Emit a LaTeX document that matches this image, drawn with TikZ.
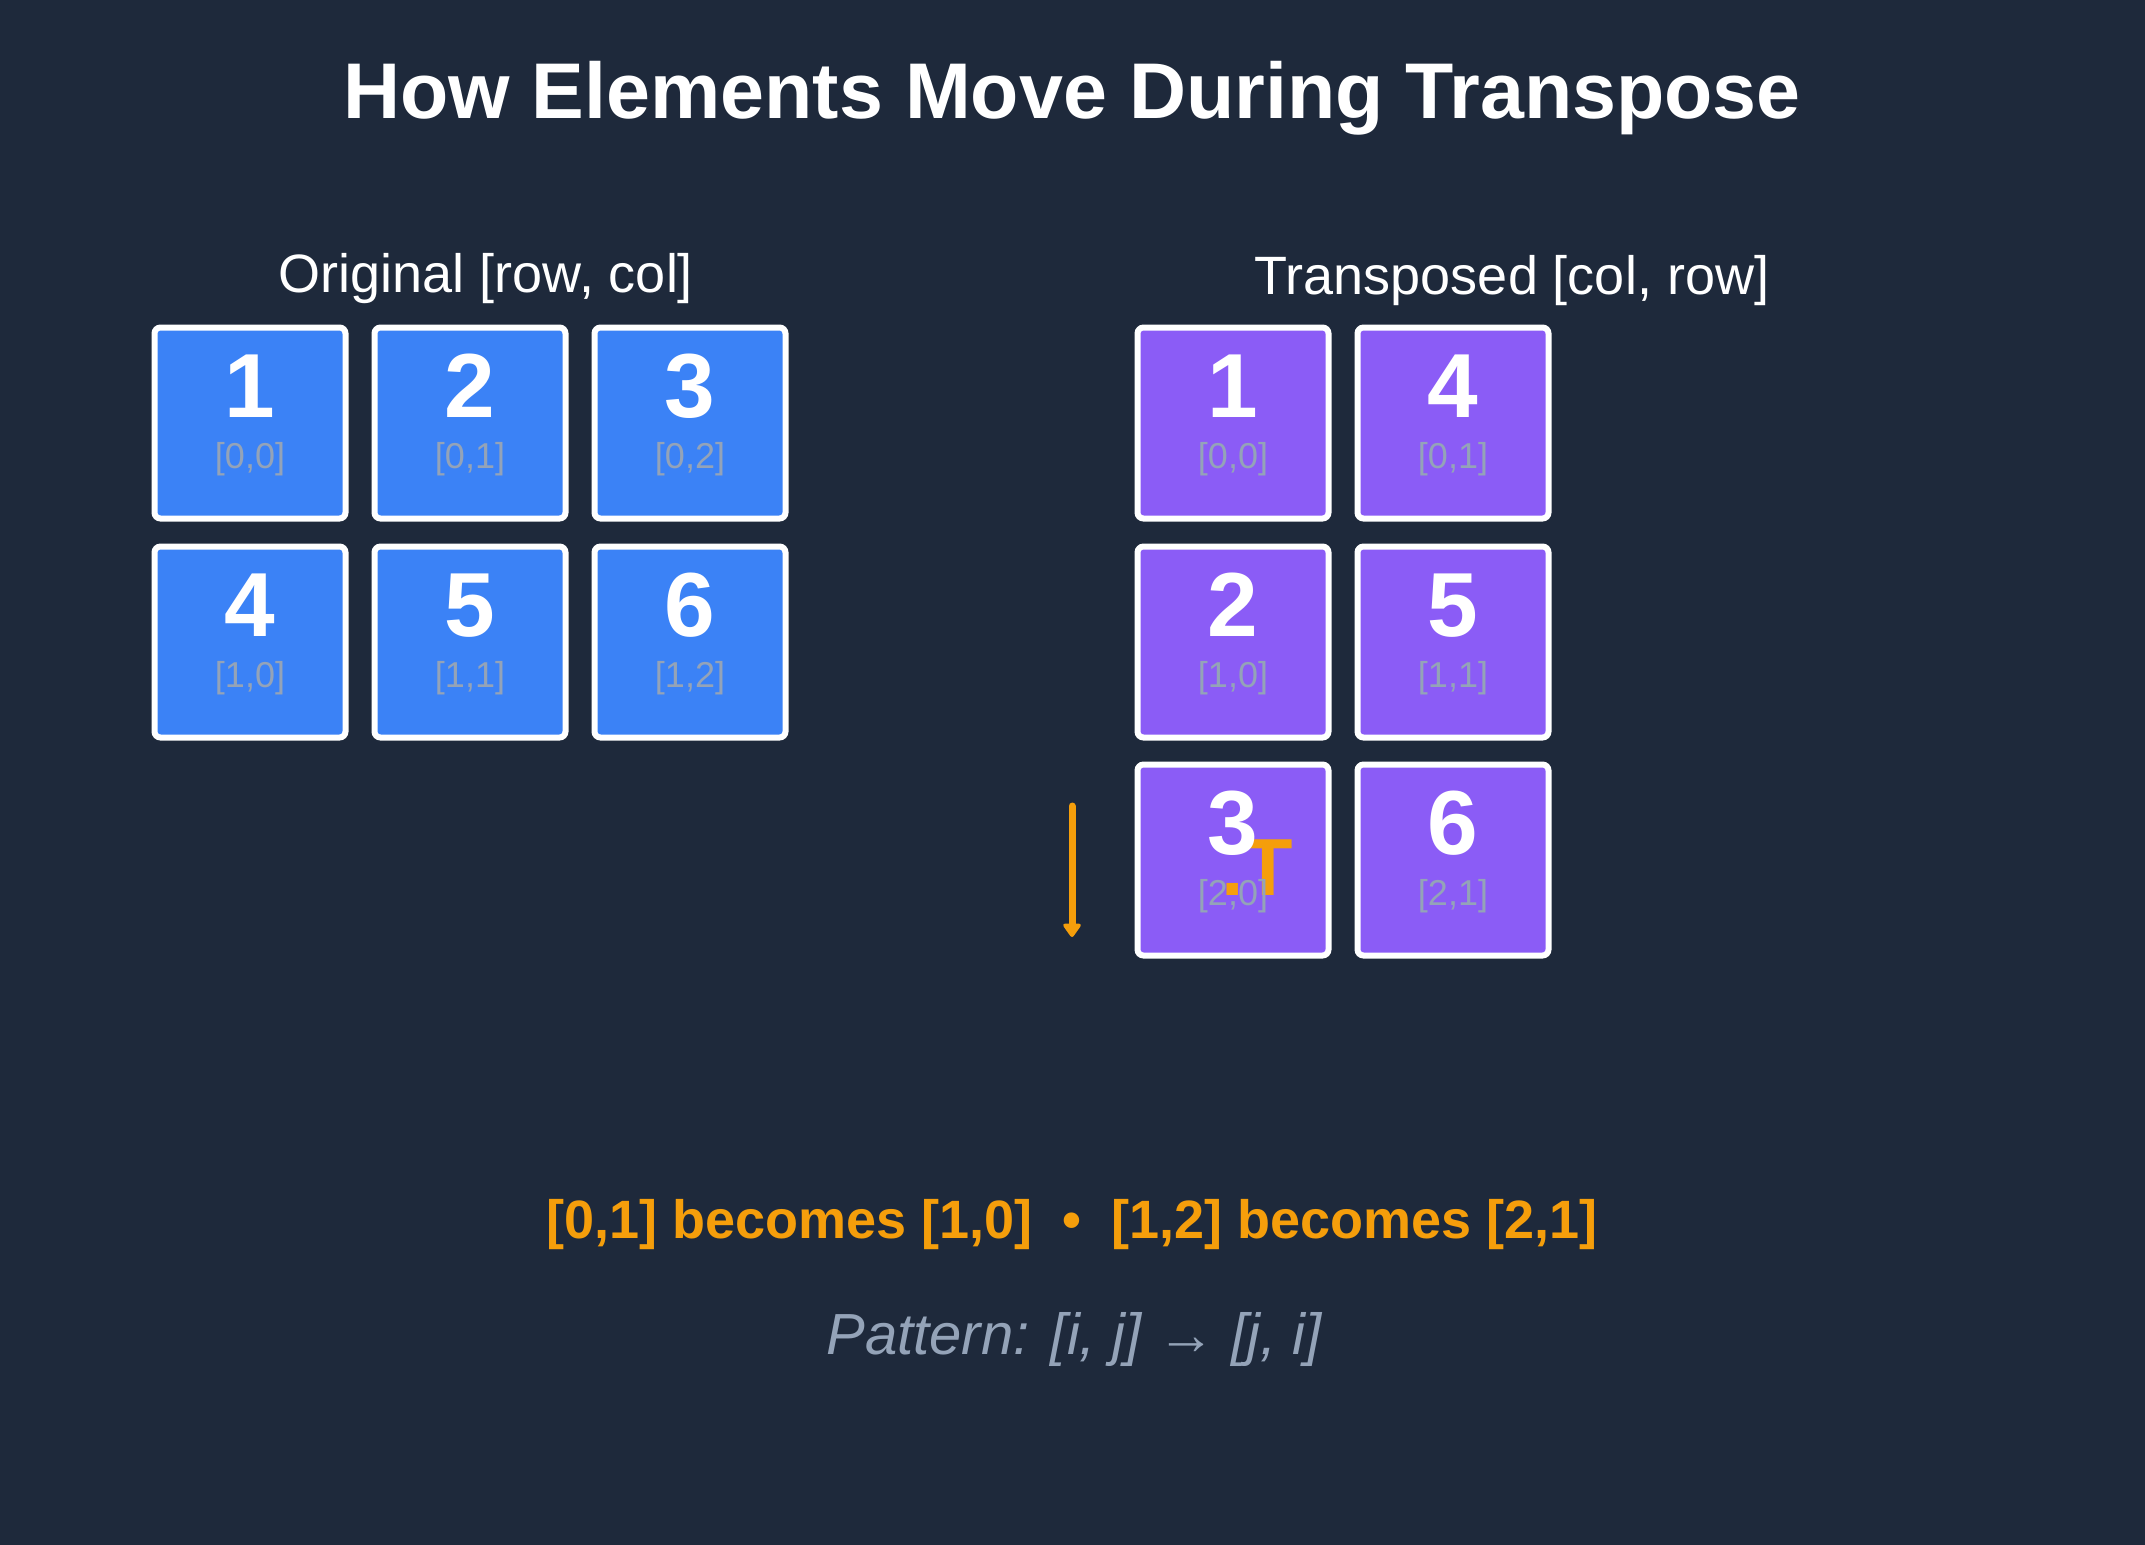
\documentclass[tikz,border=0pt]{standalone}
\usepackage{fontspec}
\setmainfont{Liberation Sans}
\usetikzlibrary{arrows.meta,calc}
\definecolor{bg}{HTML}{1E293B}
\definecolor{cblue}{HTML}{3B82F6}
\definecolor{cpurple}{HTML}{8B5CF6}
\definecolor{corange}{HTML}{F59E0B}
\definecolor{cgray}{HTML}{94A3B8}
\newcommand\fsz[1]{\fontsize{#1}{#1}\selectfont}
\tikzset{
  cellbox/.style={draw=white, line width=6pt, rounded corners=6pt, minimum size=191pt, inner sep=0pt},
  bluecell/.style={cellbox, fill=cblue},
  purplecell/.style={cellbox, fill=cpurple},
  numtext/.style={anchor=base, text=white, inner sep=0pt, font=\fsz{91}\bfseries},
  idxtext/.style={anchor=base, text=cgray, inner sep=0pt, font=\fsz{36}},
  titletext/.style={anchor=base, text=white, inner sep=0pt, font=\fsz{79}\bfseries},
  headtext/.style={anchor=base, text=white, inner sep=0pt, font=\fsz{54}},
  notetext/.style={anchor=base, text=corange, inner sep=0pt, font=\fsz{54}\bfseries},
  patterntext/.style={anchor=base, text=cgray, inner sep=0pt, font=\fsz{58}\itshape},
  movearrow/.style={draw=corange, line width=7pt, line cap=round, -{Triangle[length=15pt,width=20pt,round]}}
}
\newcommand\mktexts[3]{%
  \node[numtext] (#1n) at ($(#1.center)+(0,-6)$) {#2};
  \node[idxtext] (#1i) at ($(#1.center)+(0,45)$) {#3};}
\begin{document}
\begin{tikzpicture}[x=1pt,y=-1pt]
\useasboundingbox (0,0) rectangle (2145,1545);
\fill[bg] (0,0) rectangle (2145,1545);

\node[titletext] (title) at (1072,118) {How Elements Move During Transpose};
\node[headtext] (hleft) at (486,292) {Original [row, col]};
\node[headtext] (hright) at (1512,294) {Transposed [col, row]};

% original grid
\node[bluecell] (a11) at (250,423) {};
\node[bluecell] (a12) at (470,423) {};
\node[bluecell] (a13) at (690,423) {};
\node[bluecell] (a21) at (250,642) {};
\node[bluecell] (a22) at (470,642) {};
\node[bluecell] (a23) at (690,642) {};

% transposed grid
\node[purplecell] (b11) at (1233,423) {};
\node[purplecell] (b12) at (1453,423) {};
\node[purplecell] (b21) at (1233,642) {};
\node[purplecell] (b22) at (1453,642) {};
\node[purplecell] (b31) at (1233,860) {};
\node[purplecell] (b32) at (1453,860) {};

% moving marker
\coordinate (arrtop) at (1072,806);
\coordinate (arrbot) at (1072,937);
\draw[movearrow] (arrtop) -- (arrbot);
\node[anchor=base, text=corange, inner sep=0pt, font=\fsz{81}\bfseries] (tmark) at (1257,895) {.T};

\mktexts{a11}{1}{[0,0]}
\mktexts{a12}{2}{[0,1]}
\mktexts{a13}{3}{[0,2]}
\mktexts{a21}{4}{[1,0]}
\mktexts{a22}{5}{[1,1]}
\mktexts{a23}{6}{[1,2]}
\mktexts{b11}{1}{[0,0]}
\mktexts{b12}{4}{[0,1]}
\mktexts{b21}{2}{[1,0]}
\mktexts{b22}{5}{[1,1]}
\mktexts{b31}{3}{[2,0]}
\mktexts{b32}{6}{[2,1]}

\node[notetext] (note) at (1072,1238) {[0,1] becomes [1,0]\ \ •\ \ [1,2] becomes [2,1]};
\node[patterntext] (pattern) at (1074,1354) {Pattern: [i, j] → [j, i]};
\end{tikzpicture}
\end{document}
